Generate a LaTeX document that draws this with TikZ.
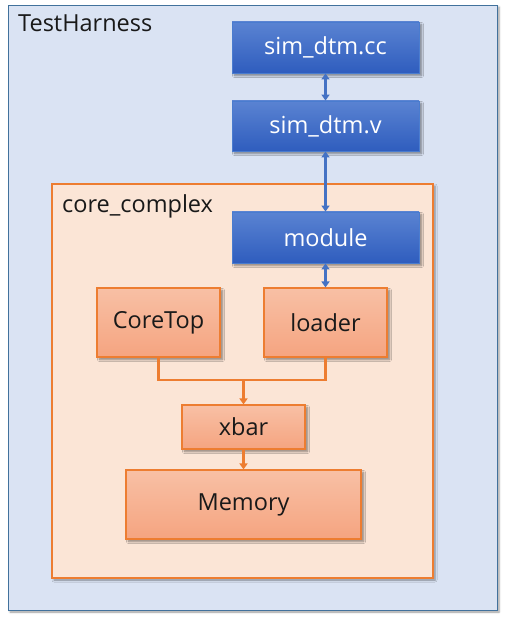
\documentclass[tikz,border=0pt]{standalone}
\usepackage{fontspec}
\setmainfont{Open Sans}
\usetikzlibrary{arrows.meta,shadows.blur}
\definecolor{thfill}{HTML}{DAE3F3}
\definecolor{thline}{HTML}{41719C}
\definecolor{ccfill}{HTML}{FBE5D6}
\definecolor{ccline}{HTML}{ED7D31}
\definecolor{bluetop}{HTML}{5A83D2}
\definecolor{bluebot}{HTML}{2F5DBE}
\definecolor{blueline}{HTML}{4A7CCF}
\definecolor{orgtop}{HTML}{F8C0A5}
\definecolor{orgbot}{HTML}{F5A480}
\definecolor{arrblue}{HTML}{4472C4}
\tikzset{
  x=1pt, y=-1pt,
  lbl/.style={font=\fontsize{23.5}{28}\selectfont, anchor=base west, inner sep=0pt, text=black!90},
  bluebox/.style={draw=blueline, line width=0.8pt, top color=bluetop, bottom color=bluebot,
    text=white, font=\fontsize{23.5}{28}\selectfont, inner sep=0pt,
    blur shadow={shadow xshift=2.5pt, shadow yshift=-2.5pt, shadow blur radius=2pt, shadow blur steps=6, shadow opacity=45}},
  orgbox/.style={draw=ccline, line width=1.1pt, top color=orgtop, bottom color=orgbot,
    text=black!90, font=\fontsize{23.5}{28}\selectfont, inner sep=0pt,
    blur shadow={shadow xshift=2.5pt, shadow yshift=-2.5pt, shadow blur radius=2pt, shadow blur steps=6, shadow opacity=45}},
  barrow/.style={draw=arrblue, line width=3pt, {Triangle[length=6pt,width=8pt]}-{Triangle[length=6pt,width=8pt]}},
  oline/.style={draw=ccline, line width=2.5pt},
  oarrow/.style={oline, -{Triangle[length=6pt,width=8pt]}},
}
\begin{document}
\begin{tikzpicture}
\useasboundingbox (0,0) rectangle (507,620);
% TestHarness frame
\path[fill=thfill, draw=thline, line width=0.8pt,
  blur shadow={shadow xshift=2pt, shadow yshift=-2pt, shadow blur radius=2pt, shadow blur steps=5, shadow opacity=40}]
  (8,5) rectangle (497,610);
\node[lbl] (thlabel) at (18,32) {TestHarness};
% core_complex frame
\path[fill=ccfill, draw=ccline, line width=1.2pt,
  blur shadow={shadow xshift=2pt, shadow yshift=-2pt, shadow blur radius=2pt, shadow blur steps=5, shadow opacity=40}]
  (52,184) rectangle (433,578);
\node[lbl] (cclabel) at (62,212) {core\_complex};
% blue boxes
\node[bluebox, minimum width=187pt, minimum height=51pt] (cc) at (325.5,47.5) {sim\_dtm.cc};
\node[bluebox, minimum width=187pt, minimum height=50pt] (v) at (325.5,126) {sim\_dtm.v};
\node[bluebox, minimum width=187pt, minimum height=51pt] (module) at (325.5,237.5) {module};
% orange boxes
\node[orgbox, minimum width=123pt, minimum height=69pt] (coretop) at (158.5,322.5) {CoreTop};
\node[orgbox, minimum width=123pt, minimum height=69pt] (loader) at (325.5,322.5) {loader};
\node[orgbox, minimum width=123pt, minimum height=44pt] (xbar) at (243.5,427) {xbar};
\node[orgbox, minimum width=235pt, minimum height=69pt] (memory) at (243.5,504.5) {Memory};
% blue arrows
\draw[barrow] (cc.south) -- (v.north);
\draw[barrow] (v.south) -- (module.north);
\draw[barrow] (module.south) -- (loader.north);
% orange connectors
\coordinate (join) at (243.5,380);
\draw[oline] (coretop.south) |- (join) -| (loader.south);
\draw[oarrow] (join) -- (xbar.north);
\draw[oarrow] (xbar.south) -- (memory.north);
\end{tikzpicture}
\end{document}
